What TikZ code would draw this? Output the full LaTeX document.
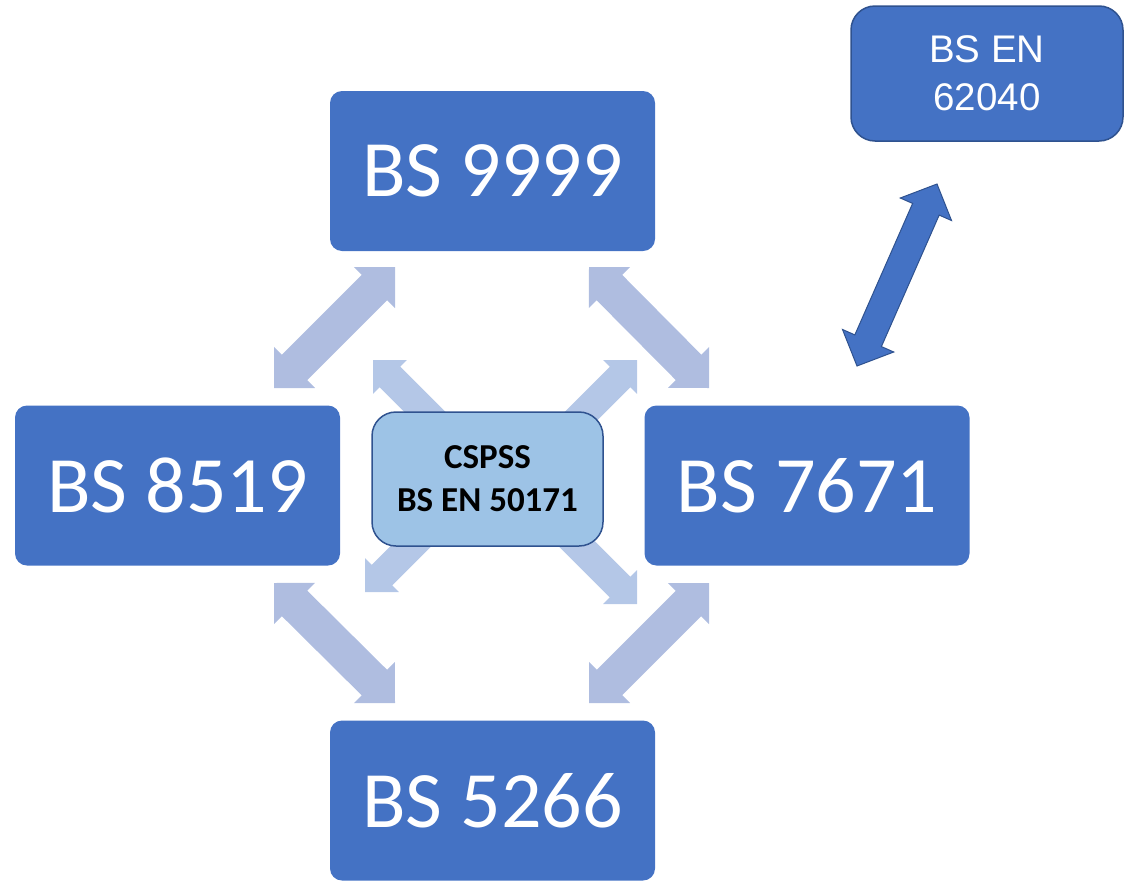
\documentclass[tikz,border=0pt]{standalone}
\usepackage{fontspec}
\setmainfont{Carlito}
\newfontfamily\arialfont{Liberation Sans}
\usetikzlibrary{calc,backgrounds}
\definecolor{boxblue}{HTML}{4472C4}
\definecolor{edgeblue}{HTML}{2F528F}
\definecolor{centerfill}{HTML}{9DC3E6}
\definecolor{linkbig}{HTML}{AFBDE0}
\definecolor{linkcenter}{HTML}{B4C7E7}
% double block arrow: #1 style, #2 tip A, #3 tip B, #4 half shaft, #5 half head, #6 head length
\newcommand\blockdouble[6]{%
  \path ($(#2)!#6!(#3)$) coordinate (ha) ($(#3)!#6!(#2)$) coordinate (hb);
  \filldraw[#1] (#2) -- ($(ha)!#5!90:(#3)$) -- ($(ha)!#4!90:(#3)$)
    -- ($(hb)!#4!-90:(#2)$) -- ($(hb)!#5!-90:(#2)$) -- (#3)
    -- ($(hb)!#5!90:(#2)$) -- ($(hb)!#4!90:(#2)$)
    -- ($(ha)!#4!-90:(#3)$) -- ($(ha)!#5!-90:(#3)$) -- cycle;}
% single block arrow: #1 style, #2 tail, #3 tip, #4 half shaft, #5 half head, #6 head length
\newcommand\blocksingle[6]{%
  \path ($(#3)!#6!(#2)$) coordinate (hb);
  \filldraw[#1] ($(#2)!#4!90:(#3)$) -- ($(hb)!#4!90:(#3)$) -- ($(hb)!#5!90:(#3)$)
    -- (#3) -- ($(hb)!#5!-90:(#3)$) -- ($(hb)!#4!-90:(#3)$)
    -- ($(#2)!#4!-90:(#3)$) -- cycle;}
\begin{document}
\begin{tikzpicture}[x=1pt,y=-1pt,
  stdbox/.style={rectangle, rounded corners=12pt, fill=boxblue, draw=none,
    minimum width=325pt, minimum height=160pt, inner sep=0pt, text=white,
    font=\fontsize{80}{96}\selectfont},
  topbox/.style={rectangle, rounded corners=24pt, fill=boxblue, draw=edgeblue,
    line width=1.5pt, minimum width=272pt, minimum height=135pt, inner sep=0pt,
    text=white, align=center, font=\arialfont\fontsize{38.5}{48}\selectfont},
  hubbox/.style={rectangle, rounded corners=24pt, fill=centerfill, draw=edgeblue,
    line width=1.5pt, minimum width=231pt, minimum height=134pt, inner sep=0pt,
    text=black, align=center, font=\bfseries\fontsize{35}{43}\selectfont},
  biglink/.style={fill=linkbig, draw=none},
  hublink/.style={fill=linkcenter, draw=none},
  darklink/.style={fill=boxblue, draw=edgeblue, line width=1pt, line join=miter}]
\useasboundingbox (0,0) rectangle (1131,881);

\node[stdbox] (s9999) at (492.5,171) {BS 9999};
\node[stdbox] (s8519) at (177.5,485.5) {BS 8519};
\node[stdbox] (s7671) at (807,485.5) {BS 7671};
\node[stdbox] (s5266) at (492.5,800.5) {BS 5266};
\node[topbox] (s62040) at (987,73.5) {BS EN\\62040};
\node[hubbox] (hub) at (487.5,479) {CSPSS\\BS EN 50171};

% arrow end points
\coordinate (ulA) at (395,267); \coordinate (ulB) at (274,388);
\coordinate (urA) at (589,267); \coordinate (urB) at (709,388);
\coordinate (llA) at (274,583); \coordinate (llB) at (395,703);
\coordinate (lrA) at (709,583); \coordinate (lrB) at (589,703);
\coordinate (dkA) at (937,184); \coordinate (dkB) at (857,366);
\coordinate (hTL) at (373,360); \coordinate (hTR) at (637,360);
\coordinate (hBL) at (365,592); \coordinate (hBR) at (637,604);
\coordinate (tTL) at (470,457); \coordinate (tTR) at (540,457);
\coordinate (tBL) at (440,517); \coordinate (tBR) at (540,507);

\begin{scope}[on background layer]
\blockdouble{biglink}{ulA}{ulB}{18pt}{29pt}{29pt}
\blockdouble{biglink}{urA}{urB}{18pt}{29pt}{29pt}
\blockdouble{biglink}{llA}{llB}{18pt}{29pt}{29pt}
\blockdouble{biglink}{lrA}{lrB}{18pt}{29pt}{29pt}
\blocksingle{hublink}{tTL}{hTL}{14.5pt}{24pt}{24pt}
\blocksingle{hublink}{tTR}{hTR}{14.5pt}{24pt}{24pt}
\blocksingle{hublink}{tBL}{hBL}{14.5pt}{24pt}{24pt}
\blocksingle{hublink}{tBR}{hBR}{14.5pt}{24pt}{24pt}
\end{scope}
\blockdouble{darklink}{dkA}{dkB}{14.5pt}{28pt}{27.6pt}
\end{tikzpicture}
\end{document}
